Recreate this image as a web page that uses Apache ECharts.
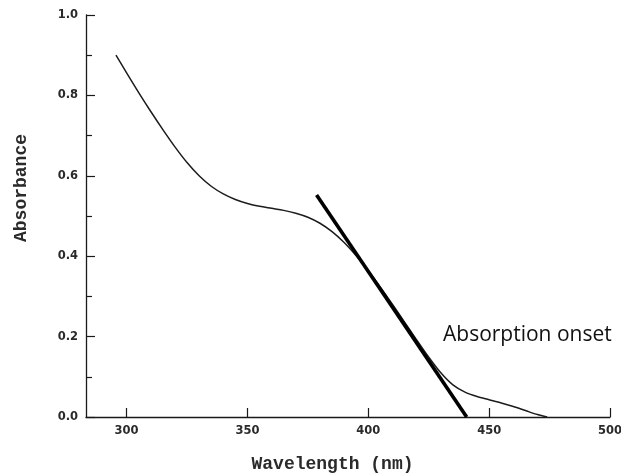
<!DOCTYPE html>
<html><head><meta charset="utf-8">
<script src="https://cdn.jsdelivr.net/npm/echarts@6/dist/echarts.min.js"></script>
<style>html,body{margin:0;padding:0;background:#fff}#c{width:621px;height:475px}</style>
</head><body><div id="c"></div>
<script>
// Spectrum
const wavelength = [295.6, 300, 305, 310, 315, 320, 325, 330, 335, 340, 345, 350, 355, 360, 365, 370, 375, 380, 385, 390, 395, 400, 405, 410, 415, 420, 425, 430, 435, 440, 445, 450, 455, 460, 465, 470, 474];
const absorbance = [0.900, 0.856, 0.807, 0.760, 0.715, 0.672, 0.633, 0.600, 0.574, 0.555, 0.541, 0.531, 0.524, 0.519, 0.514, 0.507, 0.497, 0.482, 0.461, 0.434, 0.401, 0.364, 0.323, 0.280, 0.236, 0.192, 0.149, 0.110, 0.080, 0.062, 0.051, 0.043, 0.035, 0.026, 0.016, 0.006, 0.0];
// Tangent line used for the absorption onset
const onsetX = [378.6, 440.7];
const onsetY = [0.552, 0.0];
// Axis ticks
const xTickValues = [300, 350, 400, 450, 500];
const xRange = [283.2, 500];
const yRange = [0, 1.0];
const yInterval = 0.2;
const xTitle = 'Wavelength (nm)';
const yTitle = 'Absorbance';
const annotation = 'Absorption onset';

const spectrum = wavelength.map((w, i) => [w, absorbance[i]]);
const tangent = onsetX.map((w, i) => [w, onsetY[i]]);

const chart = echarts.init(document.getElementById('c'), null, {renderer: 'canvas'});
const axisCol = '#1a1a1a';
const lblStyle = {color: '#2a2a2a', fontFamily: 'DejaVu Sans', fontWeight: 'bold', fontSize: 11.5};
chart.setOption({
  backgroundColor: '#ffffff',
  animation: false,
  grid: {left: 86, right: 11, top: 15, bottom: 58, containLabel: false, outerBoundsMode: 'none'},
  xAxis: {
    type: 'value', min: xRange[0], max: xRange[1],
    axisLine: {show: true, onZero: false, lineStyle: {color: axisCol, width: 1.3}},
    axisTick: {show: true, inside: true, length: 9, customValues: xTickValues, lineStyle: {color: axisCol, width: 1.2}},
    axisLabel: {show: true, customValues: xTickValues, margin: 8, ...lblStyle},
    splitLine: {show: false}
  },
  yAxis: {
    type: 'value', min: yRange[0], max: yRange[1], interval: yInterval,
    axisLine: {show: true, onZero: false, lineStyle: {color: axisCol, width: 1.3}},
    axisTick: {show: true, inside: true, length: 9, lineStyle: {color: axisCol, width: 1.2}},
    minorTick: {show: true, splitNumber: 2, length: 6, lineStyle: {color: axisCol, width: 1.2}},
    axisLabel: {show: true, margin: 8, formatter: v => v.toFixed(1), ...lblStyle},
    splitLine: {show: false}
  },
  series: [
    {type: 'line', data: spectrum, smooth: 0.3, showSymbol: false, lineStyle: {color: '#1c1c1c', width: 1.5}, z: 2},
    {type: 'line', data: tangent, smooth: false, showSymbol: false, lineStyle: {color: '#000', width: 3.6}, z: 3}
  ],
  graphic: [
    {type: 'text', x: 332.5, y: 464, style: {text: xTitle, font: 'bold 18px "Liberation Mono"', fill: '#2a2a2a', align: 'center', verticalAlign: 'middle'}},
    {type: 'text', x: 21.5, y: 188, rotation: Math.PI / 2, style: {text: yTitle, font: 'bold 18px "Liberation Mono"', fill: '#2a2a2a', align: 'center', verticalAlign: 'middle'}},
    {type: 'text', x: 443, y: 335, style: {text: annotation, font: '21px "Open Sans"', fill: '#111', align: 'left', verticalAlign: 'middle'}}
  ]
});
</script></body></html>
